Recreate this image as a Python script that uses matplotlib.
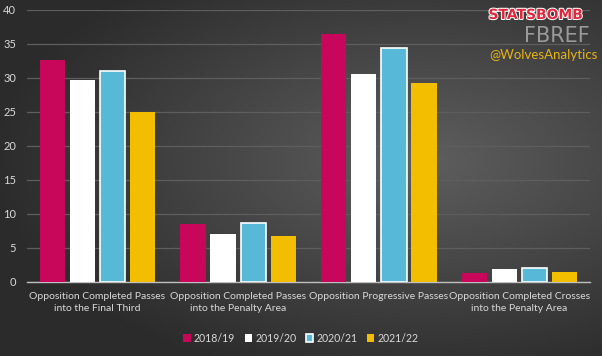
import numpy as np
import matplotlib
matplotlib.use("Agg")
import matplotlib.pyplot as plt
import matplotlib.patheffects as pe

# Données
categories = [
    "Opposition Completed Passes\ninto the Final Third",
    "Opposition Completed Passes\ninto the Penalty Area",
    "Opposition Progressive Passes",
    "Opposition Completed Crosses\ninto the Penalty Area",
]
seasons = ["2018/19", "2019/20", "2020/21", "2021/22"]
s2018 = [32.6, 8.5, 36.5, 1.3]
s2019 = [29.7, 7.1, 30.6, 1.9]
s2020 = [31.0, 8.7, 34.4, 2.1]
s2021 = [25.0, 6.8, 29.3, 1.5]
yticks = [0, 5, 10, 15, 20, 25, 30, 35, 40]

plt.rcParams['font.family'] = ['Lato', 'DejaVu Sans']

fig = plt.figure(figsize=(6.02, 3.56), dpi=100)

# Fond en dégradé (sombre à gauche, plus clair au centre droit)
bg = fig.add_axes([0, 0, 1, 1], zorder=-10)
yy, xx = np.mgrid[0:1:200j, 0:1:340j]
d = np.sqrt(((xx - 0.7) / 1.0) ** 2 + ((yy - 0.45) / 0.9) ** 2)
shade = np.clip(0.37 - 0.28 * d, 0.17, 0.37)
bg.imshow(np.dstack([shade, shade, shade]), aspect="auto", extent=[0, 1, 0, 1])
bg.axis("off")

ax = fig.add_axes([0.045, 0.208, 0.935, 0.764])
ax.patch.set_alpha(0)

x = np.arange(len(categories))
w = 0.18
step = 0.214
series = [s2018, s2019, s2020, s2021]
colors = ["#C8075A", "#FFFFFF", "#57B9D7", "#F4BE00"]
edges = ["none", "none", "#FFFFFF", "none"]
for i, (vals, c, e) in enumerate(zip(series, colors, edges)):
    ax.bar(x + (i - 1.5) * step, vals, width=w, color=c, label=seasons[i],
           edgecolor=e, linewidth=1.2 if e != "none" else 0, zorder=3)

ax.set_ylim(0, 40)
ax.set_xlim(-0.5, 3.5)
ax.set_yticks(yticks)
ax.set_xticks(x)
ax.set_xticklabels(categories, fontsize=7.5, color="#D9D9D9", linespacing=1.45)
ax.tick_params(axis="y", labelsize=8, colors="#D9D9D9", length=0, pad=8)
ax.tick_params(axis="x", length=0, pad=7)
ax.grid(axis="y", color="#5E5E5E", linewidth=0.9, zorder=0)
for s in ["top", "right", "left"]:
    ax.spines[s].set_visible(False)
ax.spines["bottom"].set_color("#BFBFBF")
ax.spines["bottom"].set_linewidth(1.0)

leg = fig.legend(loc="center", bbox_to_anchor=(0.5, 0.05), ncol=4, frameon=False,
                 fontsize=7.6, handlelength=0.7, handleheight=0.7, handletextpad=0.3,
                 columnspacing=0.9)
for t in leg.get_texts():
    t.set_color("#D9D9D9")

# Logos / signature
fig.text(0.89, 0.958, "STATSBOMB", color="#E3263B", fontsize=10, fontweight="bold",
         ha="center", va="center", family="DejaVu Sans",
         path_effects=[pe.withStroke(linewidth=1.5, foreground="white")])
fig.text(0.925, 0.9, "FBREF", color="#9A9A9A", fontsize=15, ha="center", va="center",
         family="DejaVu Sans")
fig.text(0.902, 0.845, "@WolvesAnalytics", color="#E8B410", fontsize=9.5,
         ha="center", va="center")

fig.savefig("out.png", dpi=100)
